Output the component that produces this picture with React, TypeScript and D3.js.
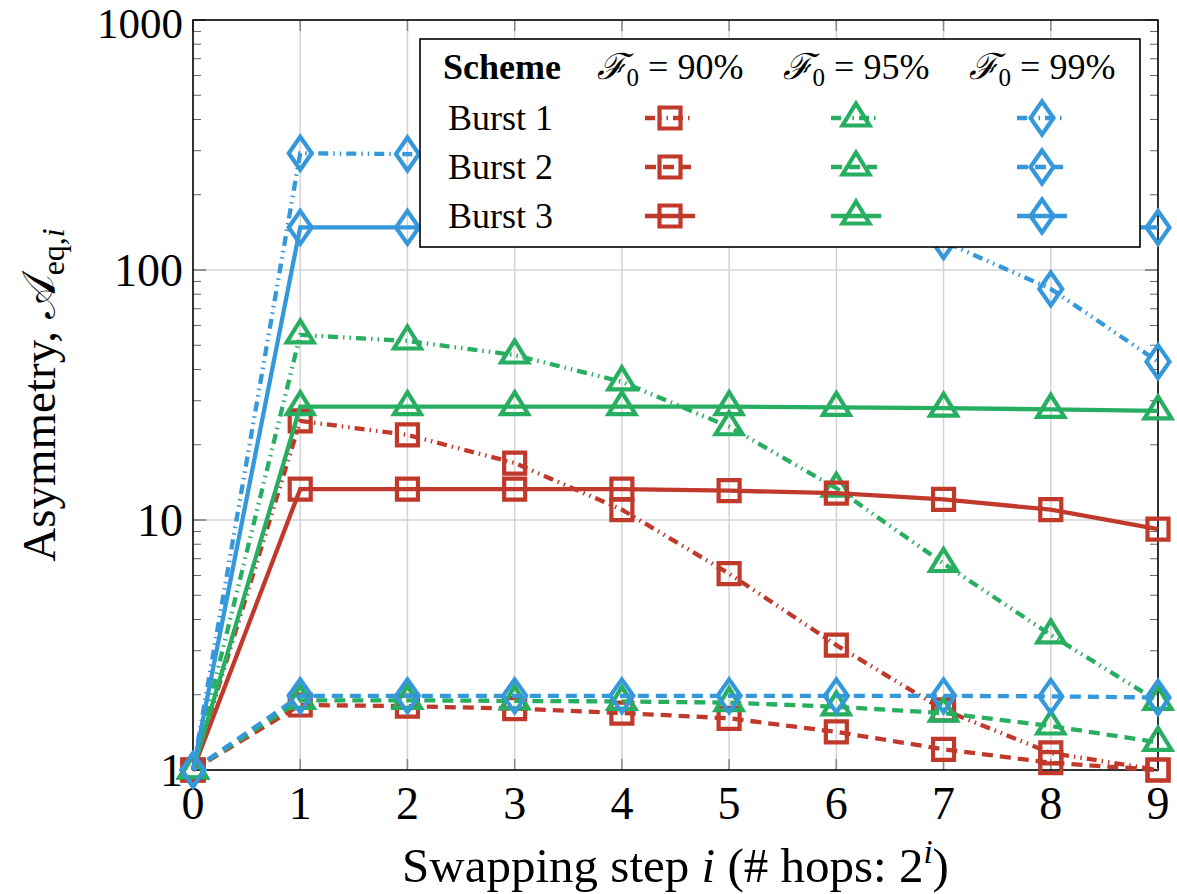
import React, { useEffect, useRef } from 'react';
import * as d3 from 'd3';

const steps = [0, 1, 2, 3, 4, 5, 6, 7, 8, 9];
const yTicks = [1, 10, 100, 1000];

// F0 = 90 %
const f90Burst1 = [1, 24.9, 21.9, 16.9, 11.0, 6.1, 3.16, 1.74, 1.17, 1.0];
const f90Burst2 = [1, 1.82, 1.8, 1.76, 1.69, 1.61, 1.42, 1.21, 1.07, 1.0];
const f90Burst3 = [1, 13.3, 13.3, 13.3, 13.3, 13.1, 12.8, 12.1, 11.0, 9.2];
// F0 = 95 %
const f95Burst1 = [1, 55, 52, 45.7, 35.7, 23.6, 13.4, 6.7, 3.47, 1.88];
const f95Burst2 = [1, 1.9, 1.9, 1.89, 1.88, 1.86, 1.79, 1.69, 1.5, 1.29];
const f95Burst3 = [1, 28.4, 28.4, 28.4, 28.4, 28.4, 28.2, 28.0, 27.7, 27.3];
// F0 = 99 %
const f99Burst1 = [1, 293, 291, 288, 282, 258, 205, 130, 84, 43];
const f99Burst2 = [1, 1.98, 1.98, 1.98, 1.98, 1.98, 1.98, 1.98, 1.97, 1.95];
const f99Burst3 = [1, 148, 148, 148, 148, 148, 148, 148, 148, 148];

const schemes = ['Burst 1', 'Burst 2', 'Burst 3'];
const fidelities = ['90%', '95%', '99%'];

const colors = ['#c0392b', '#27ae60', '#3498db'];
const markers = ['square', 'triangle', 'diamond'];
const dashes = ['10 5 1.5 5 1.5 5', '11 7', null];

const seriesByScheme = [
  [f90Burst1, f95Burst1, f99Burst1],
  [f90Burst2, f95Burst2, f99Burst2],
  [f90Burst3, f95Burst3, f99Burst3],
];

const FONT = '"Liberation Serif", "Times New Roman", serif';

function markerPath(kind: string) {
  if (kind === 'square') return 'M-10.5,-10.5H10.5V10.5H-10.5Z';
  if (kind === 'triangle') return 'M0,-14.5L13.5,7.5H-13.5Z';
  return 'M0,-16.5L11.5,0L0,16.5L-11.5,0Z';
}

export default function App() {
  const ref = useRef<SVGSVGElement>(null);

  useEffect(() => {
    const svg = d3.select(ref.current);
    svg.selectAll('*').remove();

    const margin = { top: 20, right: 19, bottom: 124, left: 193 };
    const width = 1177 - margin.left - margin.right;
    const height = 894 - margin.top - margin.bottom;

    const g = svg.append('g').attr('transform', `translate(${margin.left},${margin.top})`);

    const xScale = d3.scaleLinear().domain([0, 9]).range([0, width]);
    const yScale = d3.scaleLog().domain([1, 1000]).range([height, 0]);

    // grid
    g.append('g')
      .selectAll('line')
      .data(steps.slice(1, -1))
      .enter()
      .append('line')
      .attr('x1', (d) => xScale(d))
      .attr('x2', (d) => xScale(d))
      .attr('y1', 0)
      .attr('y2', height)
      .attr('stroke', '#d3d3d3')
      .attr('stroke-width', 1.5);
    g.append('g')
      .selectAll('line')
      .data([10, 100])
      .enter()
      .append('line')
      .attr('x1', 0)
      .attr('x2', width)
      .attr('y1', (d) => yScale(d))
      .attr('y2', (d) => yScale(d))
      .attr('stroke', '#d3d3d3')
      .attr('stroke-width', 1.5);

    // ticks (inward, both sides)
    const minor: number[] = [];
    [1, 10, 100].forEach((dec) => {
      for (let k = 2; k <= 9; k++) minor.push(dec * k);
    });
    [0, width].forEach((xx) => {
      const dir = xx === 0 ? 1 : -1;
      g.append('g')
        .selectAll('line')
        .data(minor)
        .enter()
        .append('line')
        .attr('x1', xx)
        .attr('x2', xx + dir * 8)
        .attr('y1', (d) => yScale(d))
        .attr('y2', (d) => yScale(d))
        .attr('stroke', '#666')
        .attr('stroke-width', 1);
      g.append('g')
        .selectAll('line')
        .data(yTicks)
        .enter()
        .append('line')
        .attr('x1', xx)
        .attr('x2', xx + dir * 13)
        .attr('y1', (d) => yScale(d))
        .attr('y2', (d) => yScale(d))
        .attr('stroke', '#777')
        .attr('stroke-width', 1.5);
    });
    [0, height].forEach((yy) => {
      const dir = yy === 0 ? 1 : -1;
      g.append('g')
        .selectAll('line')
        .data(steps)
        .enter()
        .append('line')
        .attr('x1', (d) => xScale(d))
        .attr('x2', (d) => xScale(d))
        .attr('y1', yy)
        .attr('y2', yy + dir * 11)
        .attr('stroke', '#888')
        .attr('stroke-width', 1.5);
    });

    // frame
    g.append('rect')
      .attr('width', width)
      .attr('height', height)
      .attr('fill', 'none')
      .attr('stroke', '#000')
      .attr('stroke-width', 1.6);

    // tick labels
    g.append('g')
      .selectAll('text')
      .data(steps)
      .enter()
      .append('text')
      .attr('x', (d) => xScale(d))
      .attr('y', height + 49)
      .attr('text-anchor', 'middle')
      .attr('font-family', FONT)
      .attr('font-size', 46)
      .text((d) => String(d));
    g.append('g')
      .selectAll('text')
      .data(yTicks)
      .enter()
      .append('text')
      .attr('x', -10)
      .attr('y', (d) => yScale(d) + (d === 1000 ? 18 : 16))
      .attr('text-anchor', 'end')
      .attr('font-family', FONT)
      .attr('font-size', (d) => (d === 1000 ? 43 : 46))
      .text((d) => String(d));

    // series
    const line = d3
      .line<number>()
      .x((_, i) => xScale(steps[i]))
      .y((d) => yScale(d));

    seriesByScheme.forEach((group, s) => {
      group.forEach((values, f) => {
        const sg = g.append('g');
        sg.append('path')
          .datum(values)
          .attr('d', line)
          .attr('fill', 'none')
          .attr('stroke', colors[f])
          .attr('stroke-width', 4.3)
          .attr('stroke-dasharray', dashes[s]);
        sg.selectAll('path.mk')
          .data(values)
          .enter()
          .append('path')
          .attr('class', 'mk')
          .attr('d', markerPath(markers[f]))
          .attr('transform', (d, i) => `translate(${xScale(steps[i])},${yScale(d)})`)
          .attr('fill', 'none')
          .attr('stroke', colors[f])
          .attr('stroke-width', 4.2);
      });
    });

    // axis titles
    const xt = svg
      .append('text')
      .attr('x', margin.left + width / 2)
      .attr('y', 882)
      .attr('text-anchor', 'middle')
      .attr('font-family', FONT)
      .attr('font-size', 49);
    xt.append('tspan').text('Swapping step ');
    xt.append('tspan').attr('font-style', 'italic').text('i');
    xt.append('tspan').text(' (# hops: 2');
    xt.append('tspan').attr('font-style', 'italic').attr('font-size', 33).attr('dy', -19).text('i');
    xt.append('tspan').attr('dy', 19).text(')');

    const yt = svg
      .append('text')
      .attr('transform', `translate(55,${margin.top + height / 2}) rotate(-90)`)
      .attr('text-anchor', 'middle')
      .attr('font-family', FONT)
      .attr('font-size', 47);
    yt.append('tspan').text('Asymmetry, ');
    yt.append('tspan').text('𝒜');
    yt.append('tspan').attr('font-size', 32).attr('dy', 9).text('eq,');
    yt.append('tspan').attr('font-size', 32).attr('font-style', 'italic').text('i');

    // legend
    const lg = svg.append('g').attr('transform', 'translate(420,39)');
    lg.append('rect')
      .attr('width', 720)
      .attr('height', 208)
      .attr('fill', '#fff')
      .attr('stroke', '#000')
      .attr('stroke-width', 1.6);
    lg.append('text')
      .attr('x', 23)
      .attr('y', 40)
      .attr('font-family', FONT)
      .attr('font-size', 36)
      .attr('font-weight', 'bold')
      .text('Scheme');
    const colX = [250, 436, 622];
    fidelities.forEach((fl, f) => {
      const t = lg
        .append('text')
        .attr('x', colX[f])
        .attr('y', 40)
        .attr('text-anchor', 'middle')
        .attr('font-family', FONT)
        .attr('font-size', 36);
      t.append('tspan').attr('font-style', 'italic').text('ℱ');
      t.append('tspan').attr('font-size', 25).attr('dy', 7).text('0');
      t.append('tspan').attr('dy', -7).text(` = ${fl}`);
    });
    schemes.forEach((name, s) => {
      const yy = 79 + s * 49;
      lg.append('text')
        .attr('x', 28)
        .attr('y', yy + 12)
        .attr('font-family', FONT)
        .attr('font-size', 36)
        .text(name);
      colors.forEach((c, f) => {
        lg.append('line')
          .attr('x1', colX[f] - 25)
          .attr('x2', colX[f] + (s === 2 ? 25 : 21))
          .attr('y1', yy)
          .attr('y2', yy)
          .attr('stroke', c)
          .attr('stroke-width', 4.3)
          .attr('stroke-dasharray', dashes[s]);
        lg.append('path')
          .attr('d', markerPath(markers[f]))
          .attr('transform', `translate(${colX[f]},${yy})`)
          .attr('fill', 'none')
          .attr('stroke', c)
          .attr('stroke-width', 4.2);
      });
    });
  }, []);

  return (
    <svg
      ref={ref}
      width={1177}
      height={894}
      style={{ position: 'absolute', left: 0, top: 0, background: '#fff' }}
    />
  );
}
